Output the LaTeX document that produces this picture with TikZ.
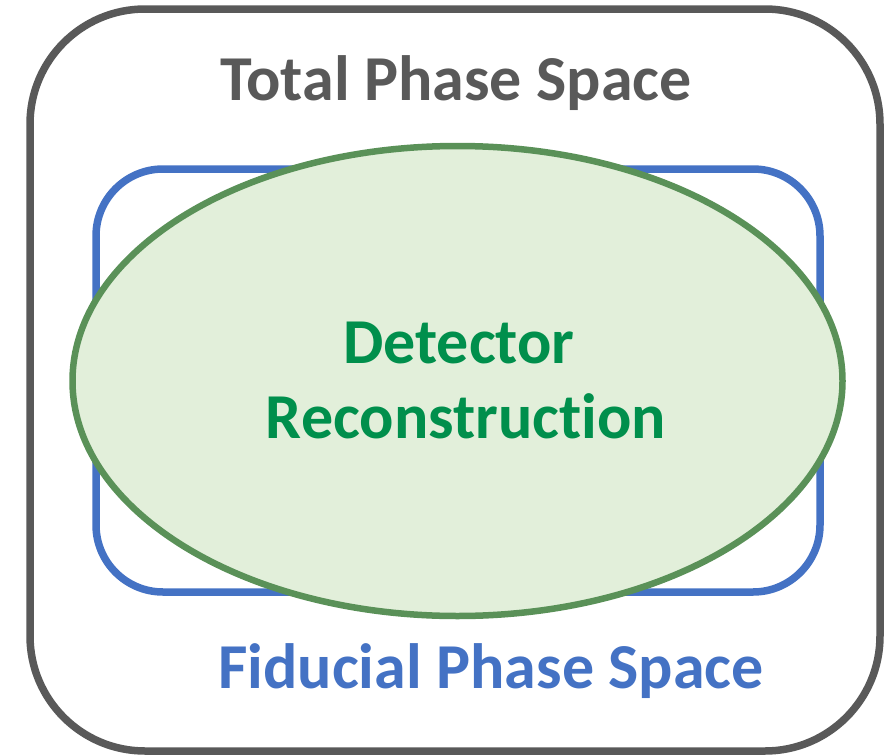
\documentclass[tikz,border=0pt]{standalone}
\usepackage{fontspec}
\setmainfont[Ligatures={NoCommon}]{Carlito}
\definecolor{outergray}{HTML}{595959}
\definecolor{fidblue}{HTML}{4472C4}
\definecolor{detline}{HTML}{5A9158}
\definecolor{detfill}{HTML}{E2EFDA}
\definecolor{dettext}{HTML}{008F4C}
\begin{document}
\begin{tikzpicture}[x=1pt,y=-1pt,
  bigtext/.style={font=\fontsize{64}{75}\selectfont\bfseries, inner sep=0pt, anchor=base, align=center}]
\useasboundingbox (0,0) rectangle (884,755);
\draw[outergray, line width=7.5pt, rounded corners=115pt] (30,9) rectangle (880,751);
\node[bigtext, text=outergray] (total) at (456,100) {Total Phase Space};
\draw[fidblue, line width=7.5pt, rounded corners=67pt] (96,169) rectangle (820,592);
\draw[detline, fill=detfill, line width=6.5pt] (457.5,381) ellipse [x radius=385, y radius=235];
\node[bigtext, text=dettext] (det1) at (459,363) {Detector};
\node[bigtext, text=dettext] (det2) at (466,438) {Reconstruction};
\node[bigtext, text=fidblue] (fid) at (491,688) {Fiducial Phase Space};
\end{tikzpicture}
\end{document}
